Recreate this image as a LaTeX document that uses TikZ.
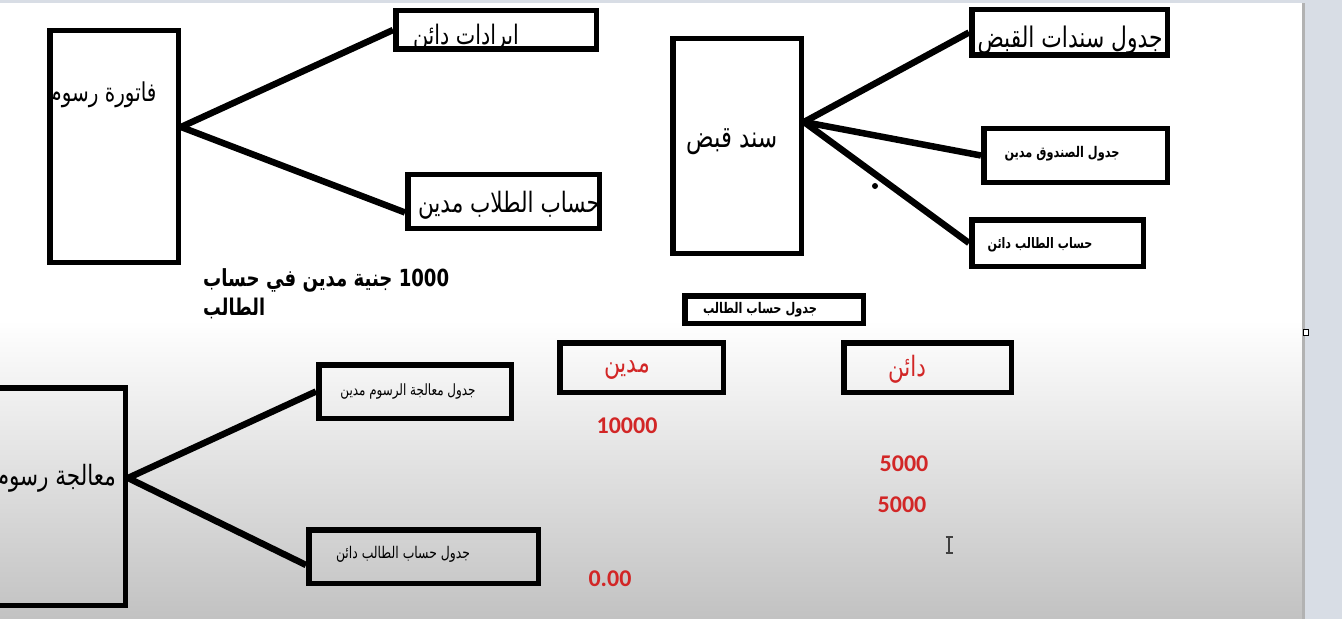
\documentclass[tikz,border=0pt]{standalone}
\usepackage{fontspec}
\setmainfont{Carlito}
\newfontfamily\arabicfont[Script=Arabic]{DejaVu Sans}
\TeXXeTstate=1
\usetikzlibrary{calc}
\definecolor{numred}{RGB}{210,38,38}
\definecolor{stripcol}{RGB}{216,221,229}
\newcommand\ar[2]{\scalebox{1}[1.3]{\resizebox{#1bp}{!}{\arabicfont #2}}}
\newcommand\arb[2]{\scalebox{1}[1.3]{\resizebox{#1bp}{!}{\arabicfont\bfseries #2}}}
\tikzset{
  box/.style={draw=black, line width=5.5bp, rectangle, inner sep=0pt},
  conn/.style={line width=6.5bp, line cap=butt},
  lbl/.style={inner sep=0pt, anchor=center},
  num/.style={inner sep=0pt, anchor=center, text=numred, font=\fontsize{24bp}{28bp}\selectfont\bfseries},
}
\begin{document}
\begin{tikzpicture}[x=1bp,y=-1bp]
\useasboundingbox (0,0) rectangle (1342,619);
\clip (0,0) rectangle (1342,619);
% background
\fill[white] (0,0) rectangle (1342,619);
\shade[top color=white, bottom color=gray!48] (0,320) rectangle (1342,619);
\fill[stripcol] (1304,0) rectangle (1342,619);
\fill[gray!60] (1302,0) rectangle (1305,619);
\fill[stripcol] (0,0) rectangle (1342,3);
\draw[line width=1bp, fill=white] (1303.5,329.5) rectangle (1308.5,335.5);

% boxes
\node[box, minimum width=128.5bp, minimum height=231.5bp] (fat) at (114,146.5) {};
\node[box, minimum width=200.5bp, minimum height=38.5bp] (irad) at (496,30) {};
\node[box, minimum width=191.5bp, minimum height=53.5bp] (hsab) at (503.5,201.5) {};
\node[box, minimum width=128.5bp, minimum height=214.5bp] (sanad) at (737,146) {};
\node[box, minimum width=195.5bp, minimum height=45.5bp] (jsanad) at (1069.5,32.5) {};
\node[box, minimum width=183.5bp, minimum height=53.5bp] (jsand) at (1075.5,155.5) {};
\node[box, minimum width=171.5bp, minimum height=46.5bp] (htalib) at (1057.5,243) {};
\node[box, minimum width=178.5bp, minimum height=27.5bp] (jtalib) at (774,309.5) {};
\node[box, minimum width=163.5bp, minimum height=49.5bp] (madin) at (641.5,367.5) {};
\node[box, minimum width=167.5bp, minimum height=49.5bp] (daen) at (927.5,367.5) {};
\node[box, minimum width=142.5bp, minimum height=217.5bp] (moal) at (54,496.5) {};
\node[box, minimum width=192.5bp, minimum height=53.5bp] (jmoal) at (415,391.5) {};
\node[box, minimum width=229.5bp, minimum height=53.5bp] (jhtd) at (423.5,556.5) {};

% connectors
\draw[conn] ($(fat.east)+(0,-19.5)$) -- (irad.west);
\draw[conn] ($(fat.east)+(0,-19.5)$) -- ($(hsab.west)+(0,11)$);
\draw[conn] ($(sanad.east)+(0,-24)$) -- (jsanad.west);
\draw[conn] ($(sanad.east)+(0,-24)$) -- (jsand.west);
\draw[conn] ($(sanad.east)+(0,-24)$) -- (htalib.west);
\draw[conn] ($(moal.east)+(0,-18.5)$) -- (jmoal.west);
\draw[conn] ($(moal.east)+(0,-18.5)$) -- ($(jhtd.west)+(0,8.5)$);

% labels
\node[lbl] (tfat) at (103,95) {\ar{107}{\beginR فاتورة رسوم\endR}};
\node[lbl] (tirad) at (466,38) {\ar{106}{\beginR ايرادات دائن\endR}};
\node[lbl] (thsab) at (509,205) {\ar{182}{\beginR حساب الطلاب مدين\endR}};
\node[lbl, anchor=west] (note1) at (203,280) {\arb{246}{\beginR\beginL 1000\endL{} جنية مدين في حساب\endR}};
\node[lbl, anchor=west] (note2) at (203,308) {\arb{62}{\beginR الطالب\endR}};
\node[lbl] (tsanad) at (732,142) {\ar{91}{\beginR سند قبض\endR}};
\node[lbl] (tjsanad) at (1070,40) {\ar{185}{\beginR جدول سندات القبض\endR}};
\node[lbl] (tjsand) at (1062,154) {\arb{115}{\beginR جدول الصندوق مدين\endR}};
\node[lbl] (thtalib) at (1040,245) {\arb{105}{\beginR حساب الطالب دائن\endR}};
\node[lbl] (tjtalib) at (760,310) {\arb{114}{\beginR جدول حساب الطالب\endR}};
\node[lbl, text=numred] (tmadin) at (627,370) {\ar{46}{\beginR مدين\endR}};
\node[lbl, text=numred] (tdaen) at (907,369) {\ar{38}{\beginR دائن\endR}};
\node[lbl, anchor=east] (tmoal) at (116,478) {\ar{120}{\beginR معالجة رسوم\endR}};
\node[lbl] (tjmoal) at (408,392) {\ar{135}{\beginR جدول معالجة الرسوم مدين\endR}};
\node[lbl] (tjhtd) at (403,554) {\ar{134}{\beginR جدول حساب الطالب دائن\endR}};

% numbers
\node[num] (n1) at (627,426) {10000};
\node[num] (n2) at (904,464) {5000};
\node[num] (n3) at (902,505) {5000};
\node[num] (n4) at (610,579) {0.00};

% stray dot and text cursor
\fill (875,186) circle (3bp);
\draw[line width=1.3bp, black!75] (949,537) -- (949,553)
  (945.5,537) -- (952.5,537) (945.5,553) -- (952.5,553);
\end{tikzpicture}
\end{document}
